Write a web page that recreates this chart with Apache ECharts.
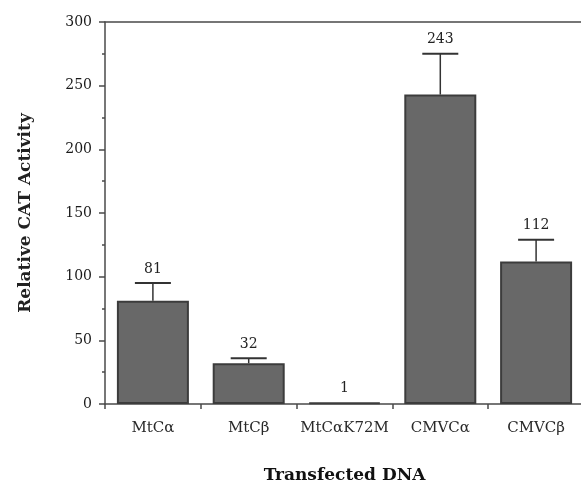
<!DOCTYPE html>
<html>
<head>
<meta charset="utf-8">
<script src="https://cdn.jsdelivr.net/npm/echarts@6/dist/echarts.min.js"></script>
<style>html,body{margin:0;padding:0;background:#fff;}#c{width:581px;height:488px;}</style>
</head>
<body>
<div id="c"></div>
<script>
var categories = ['MtCα', 'MtCβ', 'MtCαK72M', 'CMVCα', 'CMVCβ'];
var values = [81, 32, 1, 243, 112];
var errorTop = [95, 36, 1, 275, 129];
var valueLabels = ['81', '32', '1', '243', '112'];
var yTicks = [0, 50, 100, 150, 200, 250, 300];

var chart = echarts.init(document.getElementById('c'));
var serif = 'DejaVu Serif';
var axisColor = '#4a4a4a';

var errData = categories.map(function (c, i) { return [i, values[i], errorTop[i]]; });

chart.setOption({
  animation: false,
  backgroundColor: '#fff',
  grid: { left: 105, top: 22, width: 479, height: 382, containLabel: false, outerBoundsMode: 'none' },
  xAxis: [{
    type: 'category',
    data: categories,
    position: 'bottom',
    name: 'Transfected DNA',
    nameLocation: 'middle',
    nameGap: 63,
    nameTextStyle: { fontFamily: serif, fontWeight: 'bold', fontSize: 17, color: '#111' },
    axisLine: { lineStyle: { color: axisColor, width: 1.5 } },
    axisTick: { show: true, inside: false, length: 5, lineStyle: { color: axisColor, width: 1.5 } },
    axisLabel: { interval: 0, fontFamily: serif, fontSize: 15, color: '#2a2a2a', margin: 17 },
    splitLine: { show: false }
  }, {
    type: 'category',
    data: categories,
    position: 'top',
    axisLine: { show: true, lineStyle: { color: axisColor, width: 1.5 } },
    axisTick: { show: false },
    axisLabel: { show: false }
  }],
  yAxis: {
    type: 'value',
    min: 0, max: 300, interval: 50,
    name: 'Relative CAT Activity',
    nameLocation: 'middle',
    nameGap: 71,
    nameTextStyle: { fontFamily: serif, fontWeight: 'bold', fontSize: 17, color: '#222' },
    axisLine: { show: true, lineStyle: { color: axisColor, width: 1.5 } },
    axisTick: { show: true, length: 6, lineStyle: { color: axisColor, width: 1.5 } },
    minorTick: { show: true, splitNumber: 2, length: 3, lineStyle: { color: axisColor, width: 1.5 } },
    axisLabel: { fontFamily: serif, fontSize: 14, color: '#1a1a1a', margin: 13,
      formatter: function (v) { return yTicks.indexOf(v) >= 0 ? String(v) : ''; } },
    splitLine: { show: false }
  },
  series: [{
    type: 'bar',
    data: values,
    barWidth: 72,
    itemStyle: { color: '#686868', borderColor: '#3c3c3c', borderWidth: 2 },
    z: 2
  }, {
    type: 'custom',
    data: errData,
    z: 3,
    renderItem: function (params, api) {
      var i = api.value(0);
      var base = api.coord([i, api.value(1)]);
      var top = api.coord([i, api.value(2)]);
      var half = 18;
      var children = [];
      if (api.value(2) > api.value(1)) {
        children.push({ type: 'line', shape: { x1: base[0], y1: base[1], x2: top[0], y2: top[1] },
          style: { stroke: '#333', lineWidth: 1.5 } });
        children.push({ type: 'line', shape: { x1: top[0] - half, y1: top[1], x2: top[0] + half, y2: top[1] },
          style: { stroke: '#333', lineWidth: 2 } });
      }
      children.push({ type: 'text', x: top[0], y: top[1] - 14,
        style: { text: valueLabels[params.dataIndex], fontFamily: serif, fontSize: 14, fill: '#222',
          align: 'center', verticalAlign: 'middle' } });
      return { type: 'group', children: children };
    }
  }]
});
</script>
</body>
</html>
